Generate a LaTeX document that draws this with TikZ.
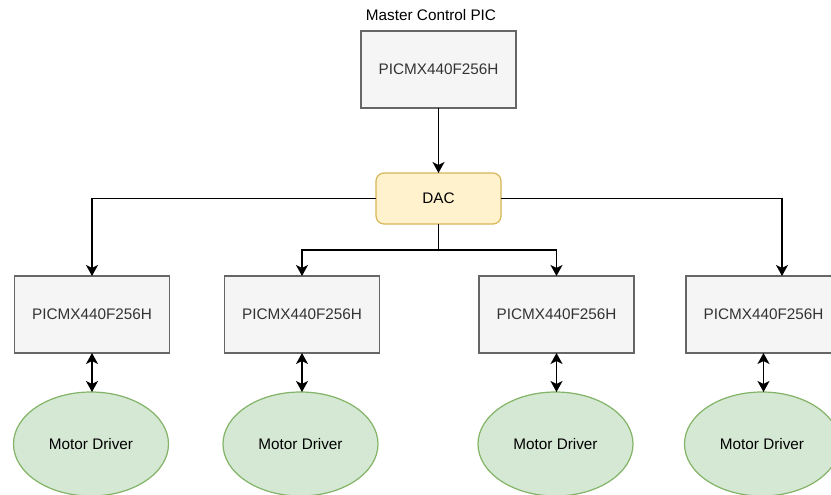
\documentclass[tikz,border=0pt]{standalone}
\usepackage{fontspec}
\setmainfont{Liberation Sans}
\usetikzlibrary{shapes.geometric,arrows.meta}
\definecolor{boxfill}{HTML}{F5F5F5}
\definecolor{boxline}{HTML}{666666}
\definecolor{boxtext}{HTML}{333333}
\definecolor{dacfill}{HTML}{FFF2CC}
\definecolor{dacline}{HTML}{D6B656}
\definecolor{motfill}{HTML}{D5E8D4}
\definecolor{motline}{HTML}{82B366}
\tikzset{
  picbox/.style={draw=boxline, fill=boxfill, text=boxtext, line width=1.2pt,
    minimum width=155pt, minimum height=77pt, inner sep=0pt, outer sep=0pt,
    font=\fontsize{15.3}{18}\selectfont},
  dacbox/.style={draw=dacline, fill=dacfill, line width=1.2pt, rounded corners=8pt,
    minimum width=125pt, minimum height=51pt, inner sep=0pt, outer sep=0pt,
    font=\fontsize{15.3}{18}\selectfont},
  motor/.style={ellipse, draw=motline, fill=motfill, line width=1.2pt,
    minimum width=155pt, minimum height=104pt, inner sep=0pt, outer sep=0pt,
    font=\fontsize{15.3}{18}\selectfont},
  arr/.style={draw=black, line width=1.3pt, -{Stealth[length=11pt,width=12pt,inset=3pt]}},
  darr/.style={draw=black, line width=1.3pt, {Stealth[length=11pt,width=12pt,inset=3pt]}-{Stealth[length=11pt,width=12pt,inset=3pt]}},
  lbl/.style={inner sep=0pt, font=\fontsize{15.3}{18}\selectfont}
}
\begin{document}
\begin{tikzpicture}[x=1pt,y=-1pt]
\useasboundingbox (0,0) rectangle (831,495);
\clip (0,0) rectangle (831,495);
\node[lbl] (mlabel) at (431,15) {Master Control PIC};
\node[picbox] (top) at (438.5,69.5) {PICMX440F256H};
\node[dacbox] (dac) at (438.5,198.5) {DAC};
\node[picbox] (b1) at (92,314.5) {PICMX440F256H};
\node[picbox] (b2) at (302,314.5) {PICMX440F256H};
\node[picbox] (b3) at (556.5,314.5) {PICMX440F256H};
\node[picbox] (b4) at (763.5,314.5) {PICMX440F256H};
\node[motor] (e1) at (91,444) {Motor Driver};
\node[motor] (e2) at (300.5,444) {Motor Driver};
\node[motor] (e3) at (555.5,444) {Motor Driver};
\node[motor] (e4) at (762,444) {Motor Driver};
\coordinate (j) at (438.5,250);
\coordinate (b4in) at (782,276);
\draw[arr] (top) -- (dac);
\draw[arr] (dac.west) -| (b1.north);
\draw[arr] (dac.east) -| (b4in);
\draw[line width=1.3pt] (dac.south) -- (j);
\draw[arr] (j) -| (b2.north);
\draw[arr] (j) -| (b3.north);
\draw[darr] (b1.south) -- (b1.south |- e1.north);
\draw[darr] (b2.south) -- (b2.south |- e2.north);
\draw[darr] (b3.south) -- (b3.south |- e3.north);
\draw[darr] (b4.south) -- (b4.south |- e4.north);
\end{tikzpicture}
\end{document}
